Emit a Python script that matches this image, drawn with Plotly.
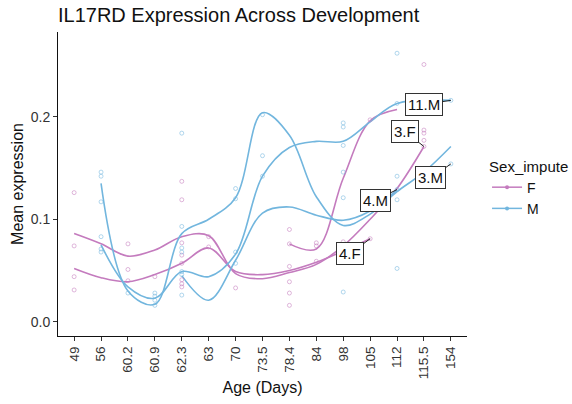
import plotly.graph_objects as go

# ---- data ----
cats = ["49", "56", "60.2", "60.9", "62.3", "63", "70", "73.5", "78.4",
        "84", "98", "105", "112", "115.5", "154"]

# smoothed trajectories per individual (read at each age category)
f_3 = [0.086, 0.076, 0.064, 0.070, 0.083, 0.084, 0.047, 0.042, 0.048,
       0.056, 0.074, 0.100, 0.130, 0.171, None]
f_4 = [0.052, 0.043, 0.039, 0.046, 0.057, 0.072, 0.049, 0.046, 0.050,
       0.058, 0.069, 0.081, None, None, None]
f_other = [None, None, None, None, None, None, None, None, 0.076,
           0.071, 0.140, 0.196, 0.207, None, None]
m_3 = [None, 0.135, 0.030, 0.017, 0.086, 0.100, 0.121, 0.204, 0.182,
       0.122, 0.094, 0.105, 0.127, 0.146, 0.171]
m_11 = [None, 0.075, 0.034, 0.023, 0.049, 0.044, 0.066, 0.142, 0.170,
        0.176, 0.176, 0.195, 0.213, None, 0.216]
m_4 = [None, None, None, None, 0.045, 0.021, 0.060, 0.106, 0.112,
       0.104, 0.099, 0.108, 0.129, None, None]

# individual sample means
f_point_age = ["49", "49", "49", "49", "60.2", "60.2", "60.2", "60.9",
               "62.3", "62.3", "62.3", "62.3", "62.3", "62.3", "62.3", "62.3",
               "63", "63", "70", "78.4", "78.4", "78.4", "78.4", "78.4", "78.4",
               "84", "84", "84", "98", "105", "105",
               "115.5", "115.5", "115.5", "115.5", "115.5"]
f_point_expr = [0.126, 0.074, 0.044, 0.031, 0.076, 0.051, 0.040, 0.044,
                0.137, 0.119, 0.077, 0.065, 0.057, 0.041, 0.037, 0.034,
                0.083, 0.073, 0.033, 0.090, 0.076, 0.054, 0.039, 0.028, 0.016,
                0.077, 0.074, 0.059, 0.078, 0.197, 0.081,
                0.251, 0.187, 0.184, 0.177, 0.171]
m_point_age = ["56", "56", "56", "56", "56", "56", "60.2",
               "60.9", "60.9", "60.9", "60.9",
               "62.3", "62.3", "62.3", "62.3", "62.3", "62.3", "62.3",
               "70", "70", "70", "70", "73.5", "73.5", "73.5",
               "98", "98", "98", "98", "98", "98",
               "112", "112", "112", "112", "112", "112", "154", "154"]
m_point_expr = [0.146, 0.142, 0.117, 0.083, 0.071, 0.068, 0.028,
                0.028, 0.025, 0.021, 0.016,
                0.184, 0.093, 0.072, 0.068, 0.049, 0.046, 0.026,
                0.130, 0.120, 0.068, 0.057, 0.202, 0.162, 0.142,
                0.194, 0.190, 0.172, 0.146, 0.121, 0.029,
                0.262, 0.213, 0.142, 0.119, 0.052, 0.129, 0.216, 0.154]

# end-point labels
label_text = ["11.M", "3.F", "3.M", "4.M", "4.F"]
label_age = ["154", "115.5", "154", "112", "105"]
label_expr = [0.216, 0.171, 0.154, 0.129, 0.081]
label_dx = [-27, -19, -20, -22, -20]
label_dy = [4, -15, 14, 11, 15]

F_COL = "#C47BBE"
M_COL = "#72B6DE"
F_PT = "rgba(196,123,190,0.55)"
M_PT = "rgba(114,182,222,0.55)"
FONT = "Liberation Sans, Arial, sans-serif"

fig = go.Figure()

for ys in (f_3, f_4, f_other):
    fig.add_trace(go.Scatter(x=cats, y=ys, mode="lines", connectgaps=True,
                             line=dict(color=F_COL, width=1.6, shape="spline", smoothing=1.0),
                             showlegend=False, hoverinfo="skip"))
for ys in (m_3, m_11, m_4):
    fig.add_trace(go.Scatter(x=cats, y=ys, mode="lines", connectgaps=True,
                             line=dict(color=M_COL, width=1.6, shape="spline", smoothing=1.0),
                             showlegend=False, hoverinfo="skip"))

fig.add_trace(go.Scatter(x=f_point_age, y=f_point_expr, mode="markers",
                         marker=dict(symbol="circle-open", size=4, color=F_PT, line=dict(width=1)),
                         showlegend=False))
fig.add_trace(go.Scatter(x=m_point_age, y=m_point_expr, mode="markers",
                         marker=dict(symbol="circle-open", size=4, color=M_PT, line=dict(width=1)),
                         showlegend=False))

# legend keys
fig.add_trace(go.Scatter(x=[None], y=[None], mode="lines+markers", name="F",
                         line=dict(color=F_COL, width=1.5), marker=dict(color=F_COL, size=4)))
fig.add_trace(go.Scatter(x=[None], y=[None], mode="lines+markers", name="M",
                         line=dict(color=M_COL, width=1.5), marker=dict(color=M_COL, size=4)))

for t, a, v, dx, dy in zip(label_text, label_age, label_expr, label_dx, label_dy):
    fig.add_annotation(x=cats.index(a), y=v, text=t, showarrow=True, arrowhead=0,
                       arrowwidth=1, arrowcolor="#222", ax=dx, ay=dy, bgcolor="white",
                       bordercolor="#333", borderwidth=1, borderpad=2,
                       font=dict(size=15, color="#111", family=FONT))

fig.update_layout(
    width=572, height=404,
    margin=dict(l=58, r=105, t=32, b=68, autoexpand=False),
    paper_bgcolor="white", plot_bgcolor="white",
    font=dict(family=FONT, color="#222"),
    title=dict(text="IL17RD Expression Across Development", x=0, xref="paper",
               xanchor="left", y=1 - 15 / 404, yref="container", yanchor="middle",
               font=dict(size=20, color="#111", family=FONT)),
    legend=dict(x=1.049, xanchor="left", y=0.605, yanchor="top",
                title=dict(text="Sex_impute", font=dict(size=15, color="#111")),
                font=dict(size=14, color="#111"), bgcolor="rgba(0,0,0,0)",
                itemwidth=30, tracegroupgap=0),
)
fig.update_xaxes(type="category", categoryorder="array", categoryarray=cats,
                 range=[-0.6, 14.6], showline=True, linecolor="#111", linewidth=1,
                 ticks="outside", ticklen=4, tickcolor="#333", tickangle=-90,
                 tickfont=dict(size=13.5, color="#333"), showgrid=False, zeroline=False,
                 automargin=False,
                 title=dict(text="Age (Days)", font=dict(size=16, color="#111"), standoff=3))
fig.update_yaxes(range=[-0.0139, 0.2827], tickvals=[0, 0.1, 0.2],
                 ticktext=["0.0", "0.1", "0.2"], showline=True, linecolor="#111",
                 linewidth=1, ticks="outside", ticklen=4, tickcolor="#333",
                 tickfont=dict(size=14, color="#333"), showgrid=False, zeroline=False,
                 automargin=False,
                 title=dict(text="Mean expression", font=dict(size=16, color="#111"), standoff=3))

fig.write_html("out.html")
